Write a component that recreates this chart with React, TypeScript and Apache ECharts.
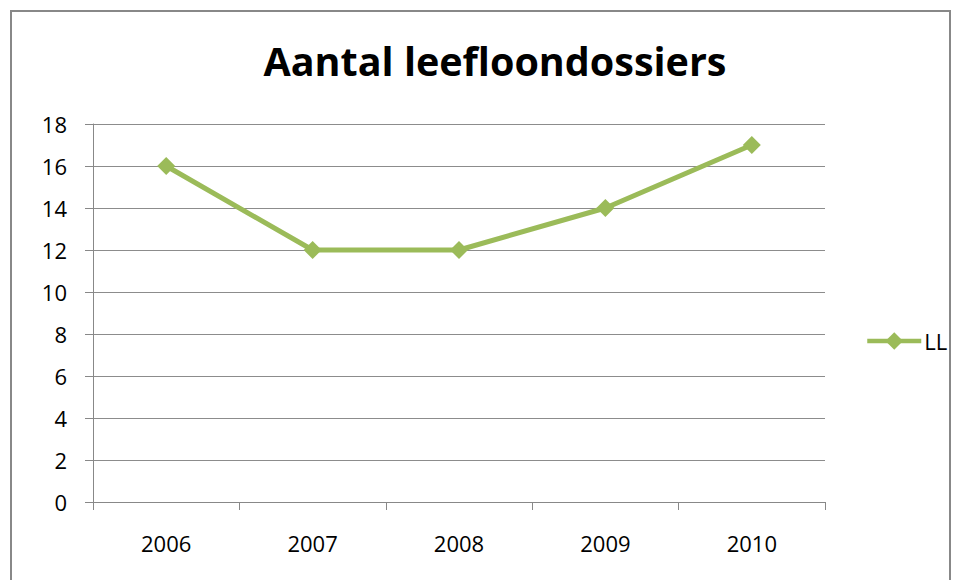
import React, { useEffect, useRef } from "react";
import * as echarts from "echarts";

const categories = ["2006", "2007", "2008", "2009", "2010"];
const llValues = [16, 12, 12, 14, 17];
const seriesName = "LL";
const titleText = "Aantal leefloondossiers";

const FONT = "'Open Sans', 'Liberation Sans', sans-serif";
const GREEN = "#9BBB59";

export default function App() {
  const ref = useRef<HTMLDivElement>(null);
  useEffect(() => {
    if (!ref.current) return;
    const chart = echarts.init(ref.current, undefined, { renderer: "svg" });
    chart.setOption({
      animation: false,
      backgroundColor: "#ffffff",
      title: {
        text: titleText,
        left: 490,
        textAlign: "center",
        top: 36,
        textStyle: { fontFamily: FONT, fontWeight: "bold", fontSize: 39.5, color: "#000" },
      },
      legend: {
        data: [{ name: seriesName }],
        orient: "vertical",
        left: 860,
        top: 325,
        itemWidth: 54,
        itemHeight: 22,
        itemGap: 4,
        lineStyle: { width: 4.5 },
        textStyle: { fontFamily: FONT, fontSize: 22, color: "#000", padding: [0, 0, 0, -2] },
      },
      grid: { left: 93, right: 134, top: 124, bottom: 78, containLabel: false },
      xAxis: {
        type: "category",
        data: categories,
        boundaryGap: true,
        axisLine: { lineStyle: { color: "#888", width: 1 } },
        axisTick: { show: true, length: 8, lineStyle: { color: "#888" } },
        axisLabel: { fontFamily: FONT, fontSize: 22, color: "#000", margin: 30 },
        splitLine: { show: false },
      },
      yAxis: {
        type: "value",
        min: 0,
        max: 18,
        interval: 2,
        axisLine: { show: true, lineStyle: { color: "#888", width: 1 } },
        axisTick: { show: true, length: 8, lineStyle: { color: "#888" } },
        axisLabel: { fontFamily: FONT, fontSize: 22, color: "#000", margin: 26 },
        splitLine: { show: true, lineStyle: { color: "#8c8c8c", width: 1 } },
      },
      series: [
        {
          name: seriesName,
          type: "line",
          data: llValues,
          symbol: "diamond",
          symbolSize: 18,
          lineStyle: { color: GREEN, width: 5 },
          itemStyle: { color: GREEN },
          z: 5,
        },
      ],
      graphic: [
        {
          type: "rect",
          shape: { x: 11, y: 11, width: 939, height: 600 },
          style: { fill: "none", stroke: "#888", lineWidth: 2 },
          silent: true,
        },
      ],
    });
    return () => chart.dispose();
  }, []);
  return (
    <div
      ref={ref}
      style={{ position: "fixed", left: 0, top: 0, width: 959, height: 580 }}
    />
  );
}
